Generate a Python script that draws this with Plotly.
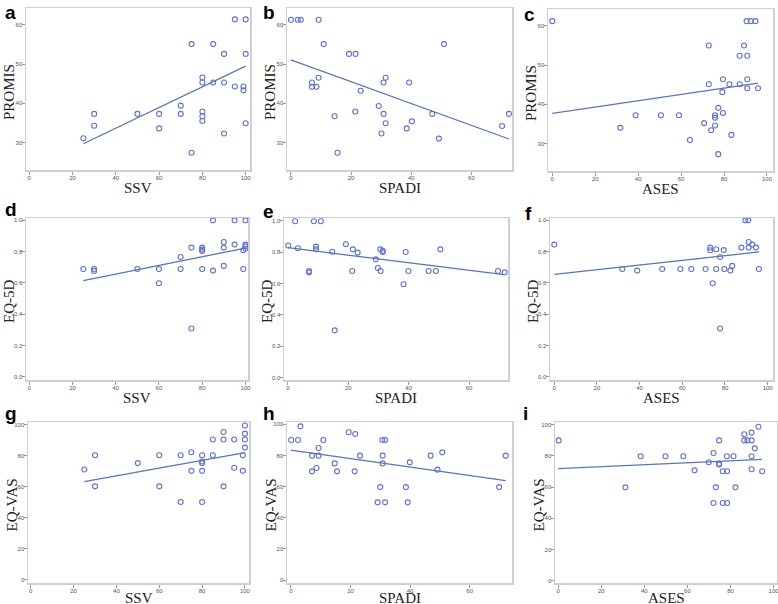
import plotly.graph_objects as go

# ---------------- data ----------------
# a: SSV vs PROMIS
a_x = [25, 30, 30, 50, 60, 60, 70, 70, 75, 75, 80, 80, 80, 80, 80, 85, 85, 90, 90, 90, 95, 95, 99, 99, 100, 100, 100]
a_y = [31.1, 37.3, 34.3, 37.3, 37.3, 33.6, 39.4, 37.3, 55.1, 27.4, 46.6, 45.3, 37.9, 36.7, 35.5, 55.1, 45.3, 52.6, 45.3, 32.3, 61.4, 44.3, 44.3, 43.3, 61.4, 52.6, 34.9]
a_fit_x = [25, 100]
a_fit_y = [29.7, 49.5]

# b: SPADI vs PROMIS
b_x = [0, 2.3, 3.3, 9.2, 10.9, 7, 7, 8.5, 9.2, 14.5, 15.5, 19.3, 21.5, 21.4, 23.2, 29.2, 30.1, 30.8, 30.8, 31.5, 31.5, 38.5, 39.3, 40.2, 47, 49.2, 50.9, 70.2, 72.5]
b_y = [61.3, 61.3, 61.3, 61.3, 55.1, 45.3, 44.2, 44.2, 46.5, 36.7, 27.4, 52.6, 52.6, 37.9, 43.2, 39.3, 32.3, 45.3, 37.3, 46.5, 34.9, 33.6, 45.3, 35.4, 37.3, 31.0, 55.1, 34.2, 37.3]
b_fit_x = [0, 72.5]
b_fit_y = [51.1, 30.9]

# c: ASES vs PROMIS
c_x = [0, 31.7, 38.8, 50.6, 59, 64.1, 70.7, 72.9, 72.9, 74, 75.8, 75.8, 75.8, 77.3, 77.3, 79.2, 79.5, 79.5, 82.5, 83.4, 87.3, 87.3, 89.3, 90.5, 92.5, 94.6, 90.8, 90.8, 90.8, 95.8]
c_y = [61.2, 34.0, 37.2, 37.2, 37.2, 30.9, 35.2, 55.0, 45.1, 33.4, 37.2, 36.6, 34.6, 39.1, 27.3, 43.1, 46.4, 37.8, 45.1, 32.2, 52.4, 45.1, 55.0, 61.2, 61.2, 61.2, 52.4, 46.4, 44.1, 44.1]
c_fit_x = [0, 95.8]
c_fit_y = [37.7, 45.4]

# d: SSV vs EQ-5D
d_x = [25, 30, 30, 50, 60, 60, 70, 70, 75, 75, 80, 80, 80, 80, 85, 85, 90, 90, 90, 95, 95, 99, 99, 100, 100, 100, 100]
d_y = [0.689, 0.689, 0.677, 0.689, 0.689, 0.598, 0.766, 0.689, 0.826, 0.309, 0.826, 0.813, 0.804, 0.689, 1.0, 0.679, 0.862, 0.826, 0.709, 1.0, 0.845, 0.809, 0.689, 1.0, 0.845, 0.834, 0.819]
d_fit_x = [25, 100]
d_fit_y = [0.615, 0.823]

# e: SPADI vs EQ-5D
e_x = [0.1, 2.4, 3.3, 7, 7, 8.6, 9.3, 9.3, 10.9, 14.7, 15.5, 19.2, 21.3, 21.5, 23.1, 29.1, 29.8, 30.6, 30.7, 31.4, 31.4, 38.3, 39, 39.9, 46.6, 49, 50.5, 69.6, 71.8]
e_y = [0.843, 0.998, 0.826, 0.681, 0.672, 0.998, 0.836, 0.819, 0.998, 0.804, 0.302, 0.851, 0.681, 0.819, 0.798, 0.755, 0.700, 0.819, 0.681, 0.809, 0.802, 0.596, 0.802, 0.681, 0.681, 0.681, 0.819, 0.681, 0.672]
e_fit_x = [0, 71.6]
e_fit_y = [0.83, 0.657]

# f: ASES vs EQ-5D
f_x = [0, 31.9, 38.9, 50.6, 59.1, 64.2, 70.9, 73.1, 73.1, 74.2, 75.9, 75.9, 77.7, 77.7, 79.4, 79.7, 82.5, 83.4, 87.7, 89.5, 90.9, 91.1, 91.1, 92.8, 94.5, 95.9]
f_y = [0.845, 0.689, 0.679, 0.689, 0.689, 0.689, 0.689, 0.826, 0.809, 0.598, 0.815, 0.689, 0.766, 0.309, 0.81, 0.689, 0.679, 0.709, 0.826, 1.0, 1.0, 0.862, 0.826, 0.845, 0.826, 0.689]
f_fit_x = [0, 96]
f_fit_y = [0.655, 0.798]

# g: SSV vs EQ-VAS
g_x = [25, 30, 30, 50, 60, 60, 70, 70, 75, 75, 80, 80, 80, 80, 80, 85, 85, 90, 90, 90, 95, 95, 99, 99, 100, 100, 100, 100]
g_y = [71.1, 80.3, 60.2, 75.2, 80.3, 60.2, 80.3, 50.1, 82.2, 70.2, 80.3, 76.2, 75.2, 70.2, 50.1, 90.4, 80.3, 95.3, 90.4, 60.2, 90.4, 72.2, 80.3, 70.2, 99.4, 94.2, 90.4, 85.2]
g_fit_x = [25, 100]
g_fit_y = [63.2, 82.0]

# h: SPADI vs EQ-VAS
h_x = [0.1, 2.4, 3.2, 7.1, 7.1, 8.6, 9.3, 9.3, 10.9, 14.7, 15.5, 19.4, 21.4, 21.6, 23.2, 29.1, 30, 30.7, 31.6, 30.8, 30.8, 31.6, 38.6, 39.2, 39.9, 46.9, 49.2, 50.8, 69.9, 72.1]
h_y = [89.9, 89.9, 98.7, 79.9, 69.8, 72.0, 84.8, 79.9, 89.9, 74.9, 69.8, 94.9, 69.8, 93.8, 79.9, 49.9, 59.7, 89.9, 89.9, 79.9, 74.9, 49.9, 59.7, 49.9, 75.6, 79.9, 70.9, 82.0, 59.7, 79.9]
h_fit_x = [0, 72.1]
h_fit_y = [83.5, 63.8]

# i: ASES vs EQ-VAS
i_x = [0.2, 31.2, 38.3, 49.8, 58.1, 63.3, 69.9, 72.1, 72.1, 73.2, 74.7, 74.7, 74.7, 76.4, 76.4, 78.3, 78.4, 78.4, 81.4, 82.3, 86.4, 86.4, 87.9, 89.8, 89.8, 89.8, 89.8, 91.3, 93, 94.7]
i_y = [89.9, 59.8, 79.7, 79.7, 79.7, 70.7, 75.9, 81.8, 49.8, 59.8, 89.9, 75.0, 74.4, 70.1, 49.8, 79.7, 70.1, 49.8, 79.7, 59.8, 93.8, 89.9, 89.9, 94.9, 89.9, 79.7, 71.4, 84.8, 98.7, 70.1]
i_fit_x = [0, 94.7]
i_fit_y = [71.8, 77.8]

letters = ["a", "b", "c", "d", "e", "f", "g", "h", "i"]
x_titles = ["SSV", "SPADI", "ASES"] * 3
y_titles = ["PROMIS"] * 3 + ["EQ-5D"] * 3 + ["EQ-VAS"] * 3

xs = [a_x, b_x, c_x, d_x, e_x, f_x, g_x, h_x, i_x]
ys = [a_y, b_y, c_y, d_y, e_y, f_y, g_y, h_y, i_y]
fxs = [a_fit_x, b_fit_x, c_fit_x, d_fit_x, e_fit_x, f_fit_x, g_fit_x, h_fit_x, i_fit_x]
fys = [a_fit_y, b_fit_y, c_fit_y, d_fit_y, e_fit_y, f_fit_y, g_fit_y, h_fit_y, i_fit_y]

# ---------------- layout (pixels) ----------------
W, H = 778, 604
frames = [  # left, right, top, bottom
    (26, 250, 8, 170), (287, 512, 8, 170), (548, 773, 9, 171),
    (26, 248, 218, 380), (284, 508, 218, 380), (550, 773, 218, 380),
    (28, 249, 422, 583), (287, 512, 422, 583), (555, 777, 422, 583),
]
x_ranges = [[-1.5, 102], [-1.3, 73.5], [-2, 102.8],
            [-1.5, 101.2], [-1.3, 72.9], [-2, 102.5],
            [-1.3, 101.9], [-1.3, 74.2], [-1.5, 101.6]]
y_ranges = [[23, 64.3]] * 3 + [[-0.02, 1.015], [-0.015, 1.019], [-0.02, 1.015]] + \
           [[-2.1, 101.7], [-1.9, 101.5], [-1.5, 101.7]]
x_ticks_100 = [0, 20, 40, 60, 80, 100]
x_ticks_spadi = [0, 20, 40, 60]
x_tickvals = [x_ticks_100, x_ticks_spadi, x_ticks_100] * 3
y_tickvals = [[30, 40, 50, 60]] * 3 + [[0, 0.2, 0.4, 0.6, 0.8, 1.0]] * 3 + [[0, 20, 40, 60, 80, 100]] * 3
letter_pos = [(3, 0), (261, 0), (522, 2), (3, 197), (261, 199), (523, 201), (3, 401), (261, 401), (521, 401)]

marker_color = "#5f73d2"
line_color = "#5a77b0"
frame_color = "#cfcfcf"

fig = go.Figure()
annotations = []
layout = {}
for k in range(9):
    l, r, t, b = frames[k]
    sfx = "" if k == 0 else str(k + 1)
    xa, ya = "x" + sfx, "y" + sfx
    fig.add_trace(go.Scatter(x=xs[k], y=ys[k], mode="markers", xaxis=xa, yaxis=ya,
                             marker=dict(symbol="circle-open", size=5, color=marker_color,
                                         line=dict(width=1.1, color=marker_color)),
                             showlegend=False))
    fig.add_trace(go.Scatter(x=fxs[k], y=fys[k], mode="lines", xaxis=xa, yaxis=ya,
                             line=dict(color=line_color, width=1.3),
                             showlegend=False))
    is_frac = k in (3, 4, 5)
    xt = x_tickvals[k]
    yt = y_tickvals[k]
    common = dict(showgrid=False, zeroline=False, showline=True, linecolor=frame_color,
                  linewidth=1.5, mirror=True, ticks="outside", ticklen=3, tickcolor="#999999",
                  tickwidth=1, ticklabeloverflow="allow", tickangle=0, automargin=False,
                  ticklabelstandoff=-2,
                  tickfont=dict(family="Arial, Liberation Sans", size=6, color="#555555"))
    layout["xaxis" + sfx] = dict(
        domain=[l / W, r / W], anchor=ya, range=x_ranges[k],
        tickmode="array", tickvals=xt, ticktext=[str(v) for v in xt], **common)
    layout["yaxis" + sfx] = dict(
        domain=[1 - b / H, 1 - t / H], anchor=xa, range=y_ranges[k],
        tickmode="array", tickvals=yt,
        ticktext=[("%.1f" % v) if is_frac else str(v) for v in yt], **common)
    # axis titles
    off = 15 if k >= 6 else 18
    annotations.append(dict(text=x_titles[k], xref="paper", yref="paper",
                            x=((l + r) / 2) / W, y=1 - (b + off) / H,
                            xanchor="center", yanchor="middle", showarrow=False,
                            font=dict(family="Liberation Serif, Times New Roman", size=15, color="#222222")))
    annotations.append(dict(text=y_titles[k], xref="paper", yref="paper",
                            x=(l - 17) / W, y=1 - ((t + b) / 2 + 3) / H, textangle=-90,
                            xanchor="center", yanchor="middle", showarrow=False,
                            font=dict(family="Liberation Serif, Times New Roman", size=15, color="#222222")))
    lx, ly = letter_pos[k]
    annotations.append(dict(text="<b>" + letters[k] + "</b>", xref="paper", yref="paper",
                            x=lx / W, y=1 - ly / H, xanchor="left", yanchor="top", showarrow=False,
                            font=dict(family="Arial, Liberation Sans", size=19, color="#000000")))

fig.update_layout(**layout)
fig.update_layout(width=W, height=H, margin=dict(l=0, r=0, t=0, b=0),
                  paper_bgcolor="white", plot_bgcolor="white", hovermode=False,
                  annotations=annotations, showlegend=False)
fig.write_html("out.html", config={"displayModeBar": False, "staticPlot": True},
               post_script="document.body.style.margin='0';document.body.style.padding='0';document.body.style.overflow='hidden';")
